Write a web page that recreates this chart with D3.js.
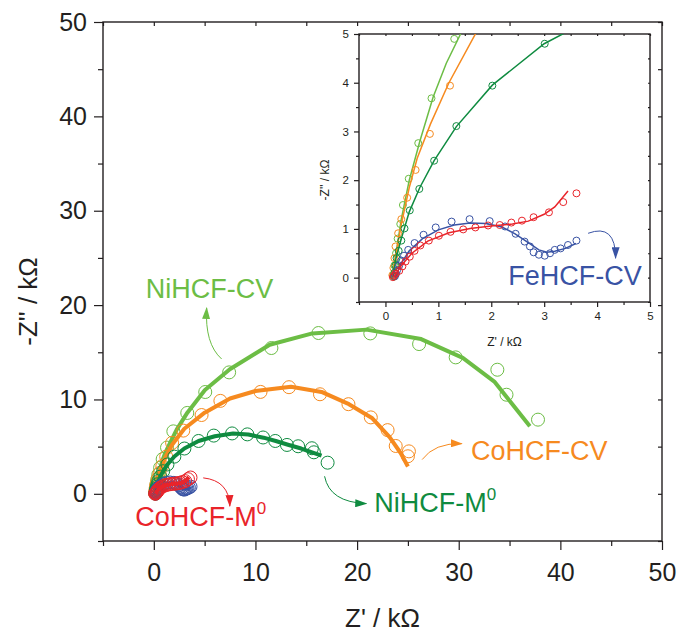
<!DOCTYPE html>
<html>
<head>
<meta charset="utf-8">
<script src="https://cdn.jsdelivr.net/npm/d3@7"></script>
<style>
	body { margin: 0; background: #fff; }
	svg { font-family: 'Liberation Sans', Arial, sans-serif; }
</style>
</head>
<body>
<div id="chart"></div>
<script>
// Nyquist data, Z' and -Z'' in kOhm
const niCvPts = [[0.15,0.05],[0.17,0.25],[0.2,0.5],[0.23,0.8],[0.28,1.1],[0.33,1.49],[0.44,2.03],[0.62,2.76],[0.87,3.68],[1.3,4.9],[1.92,6.62],[3.29,8.57],[5.06,10.79],[7.41,12.87],[11.57,15.45],[16.2,17.04],[21.3,17.0],[26.1,15.87],[29.7,14.46],[33.8,13.15],[34.7,10.5],[37.8,7.86]];
const niCvFit = [[0.12,0],[0.2,0.5],[0.3,1.2],[0.45,2.0],[0.65,2.8],[0.9,3.7],[1.15,4.4],[1.42,5.0],[2.25,6.8],[3.3,8.6],[5.03,11.0],[7.48,13.2],[11.4,15.8],[15.6,17.0],[20.9,17.4],[26.3,16.4],[30.4,14.4],[33.5,11.9],[37.0,7.15]];

const coCvPts = [[0.13,0.05],[0.15,0.2],[0.17,0.4],[0.19,0.64],[0.24,0.91],[0.3,1.2],[0.41,1.64],[0.57,2.21],[0.84,2.95],[1.22,3.94],[1.8,5.4],[2.9,6.7],[4.7,8.35],[6.55,9.85],[10.5,10.8],[13.3,11.3],[16.35,10.55],[19.15,9.5],[21.35,8.1],[23.0,6.75],[23.8,5.07],[25.1,4.5],[25.0,3.98]];
const coCvFit = [[0.13,0],[0.2,0.5],[0.3,1.1],[0.45,1.85],[0.6,2.45],[0.85,3.15],[1.2,4.0],[1.8,5.2],[3,6.9],[5,8.6],[7.5,10.1],[10,10.9],[13.5,11.35],[16.5,10.8],[19.2,9.5],[21.5,8.0],[23.2,6.0],[24.3,4.3],[25,2.9]];

const niM0Pts = [[0.16,0.02],[0.17,0.1],[0.19,0.25],[0.21,0.4],[0.25,0.55],[0.3,0.76],[0.36,1.01],[0.46,1.38],[0.64,1.82],[0.92,2.4],[1.34,3.11],[2.02,3.94],[3.01,4.8],[4.4,5.6],[5.9,6.17],[7.7,6.4],[9.2,6.3],[10.75,5.97],[11.95,5.6],[13.1,5.18],[14.2,5.04],[15.55,4.83],[15.75,4.4],[17.1,3.3]];
const niM0Fit = [[0.14,0],[0.2,0.4],[0.3,0.8],[0.45,1.35],[0.65,1.85],[0.92,2.4],[1.34,3.1],[2.02,3.95],[3.0,4.8],[4.4,5.6],[6,6.1],[7.8,6.4],[9.3,6.28],[10.8,5.95],[12,5.6],[13.2,5.2],[14.5,4.8],[16.5,4.05]];

const feCvPts = [[0.18,0.03],[0.2,0.08],[0.22,0.15],[0.26,0.25],[0.3,0.35],[0.35,0.45],[0.43,0.57],[0.55,0.71],[0.72,0.88],[0.95,1.03],[1.25,1.15],[1.59,1.2],[1.97,1.16],[2.26,1.05],[2.46,0.9],[2.63,0.74],[2.73,0.64],[2.8,0.52],[2.9,0.47],[3.01,0.45],[3.11,0.5],[3.2,0.57],[3.31,0.6],[3.45,0.67],[3.61,0.76]];
const feCvFit = [[0.18,0],[0.22,0.1],[0.3,0.3],[0.45,0.55],[0.7,0.8],[1.0,0.98],[1.3,1.08],[1.6,1.12],[1.9,1.11],[2.2,1.04],[2.45,0.9],[2.7,0.72],[2.9,0.57],[3.05,0.52],[3.2,0.54],[3.4,0.6],[3.6,0.7]];

const coM0Pts = [[0.14,0.01],[0.16,0.04],[0.19,0.08],[0.26,0.14],[0.32,0.23],[0.38,0.33],[0.46,0.43],[0.55,0.55],[0.66,0.66],[0.82,0.76],[1.01,0.86],[1.23,0.94],[1.47,0.99],[1.7,1.03],[1.94,1.07],[2.16,1.08],[2.38,1.13],[2.58,1.17],[2.8,1.24],[3.09,1.34],[3.36,1.55],[3.61,1.73]];
const coM0Fit = [[0.15,0],[0.22,0.12],[0.3,0.25],[0.5,0.5],[0.8,0.75],[1.2,0.92],[1.6,1.01],[2.0,1.06],[2.4,1.1],[2.7,1.16],[3.0,1.3],[3.2,1.45],[3.45,1.78]];

const seriesNames = ['NiHCF-CV', 'CoHCF-CV', 'NiHCF-M0', 'FeHCF-CV', 'CoHCF-M0'];
const seriesColors = ['#6cbd45', '#f68a1f', '#0f8b40', '#3953a4', '#e9242a'];

const mainTicks = [0, 10, 20, 30, 40, 50];
const mainMinor = [-5, 5, 15, 25, 35, 45];
const insetTicks = [0, 1, 2, 3, 4, 5];
const insetMinor = [-0.5, 0.5, 1.5, 2.5, 3.5, 4.5];

const series = [
	{ pts: niCvPts, fit: niCvFit },
	{ pts: coCvPts, fit: coCvFit },
	{ pts: niM0Pts, fit: niM0Fit },
	{ pts: feCvPts, fit: feCvFit },
	{ pts: coM0Pts, fit: coM0Fit }
].map((s, i) => ({ ...s, name: seriesNames[i], color: seriesColors[i] }));

const width = 678;
const height = 632;
const ink = '#231f20';

const svg = d3.select('#chart').append('svg')
	.attr('width', width)
	.attr('height', height);

const defs = svg.append('defs');
seriesColors.forEach((c, i) => {
	defs.append('marker')
		.attr('id', 'arr' + i)
		.attr('viewBox', '0 0 12 8')
		.attr('refX', 11).attr('refY', 4)
		.attr('markerWidth', 12).attr('markerHeight', 8)
		.attr('markerUnits', 'userSpaceOnUse')
		.attr('orient', 'auto')
		.append('path').attr('d', 'M0,0 L12,4 L0,8 Z').attr('fill', c);
});

// main panel scales
const x = d3.scaleLinear().domain([-5, 50]).range([103, 662]);
const y = d3.scaleLinear().domain([-5, 50]).range([541, 22]);

function styleAxis(g, fontSize) {
	g.select('.domain').remove();
	g.selectAll('line').attr('stroke', ink).attr('stroke-width', 1.2);
	g.selectAll('text').attr('fill', ink).style('font-size', fontSize + 'px')
		.style('font-family', "'Liberation Sans', Arial, sans-serif");
}

function drawAxes(g, sx, sy, major, minor, bigTick, smallTick, padX, padY, fontSize) {
	const [x0, x1] = sx.range();
	const [y0, y1] = sy.range();
	const fmt = d3.format('~g');
	g.append('g').attr('transform', `translate(${x0},0)`)
		.call(d3.axisLeft(sy).tickValues(major).tickSize(bigTick).tickPadding(padY).tickFormat(fmt))
		.call((a) => styleAxis(a, fontSize));
	g.append('g').attr('transform', `translate(${x0},0)`)
		.call(d3.axisLeft(sy).tickValues(minor).tickSize(smallTick).tickFormat(''))
		.call((a) => styleAxis(a, fontSize));
	g.append('g').attr('transform', `translate(0,${y0})`)
		.call(d3.axisBottom(sx).tickValues(major).tickSize(bigTick).tickPadding(padX).tickFormat(fmt))
		.call((a) => styleAxis(a, fontSize));
	g.append('g').attr('transform', `translate(0,${y0})`)
		.call(d3.axisBottom(sx).tickValues(minor).tickSize(smallTick).tickFormat(''))
		.call((a) => styleAxis(a, fontSize));
	// inward ticks on top and right
	const all = major.concat(minor);
	g.append('g').attr('transform', `translate(0,${y1})`)
		.call(d3.axisBottom(sx).tickValues(all).tickSize(smallTick - 1).tickFormat(''))
		.call((a) => styleAxis(a, fontSize));
	g.append('g').attr('transform', `translate(${x1},0)`)
		.call(d3.axisLeft(sy).tickValues(all).tickSize(smallTick - 1).tickFormat(''))
		.call((a) => styleAxis(a, fontSize));
	g.append('rect')
		.attr('x', x0).attr('y', y1)
		.attr('width', x1 - x0).attr('height', y0 - y1)
		.attr('fill', 'none').attr('stroke', ink).attr('stroke-width', 1.4);
}

const main = svg.append('g');
drawAxes(main, x, y, mainTicks, mainMinor, 9, 5, 13, 7, 25);

// main curves
const mainLine = d3.line().x((d) => x(d[0])).y((d) => y(d[1]));
series.forEach((s) => {
	main.append('g').selectAll('circle').data(s.pts).join('circle')
		.attr('cx', (d) => x(d[0])).attr('cy', (d) => y(d[1])).attr('r', 6.5)
		.attr('fill', 'none').attr('stroke', s.color).attr('stroke-width', 1);
	main.append('path').datum(s.fit)
		.attr('d', mainLine)
		.attr('fill', 'none').attr('stroke', s.color)
		.attr('stroke-width', 4).attr('stroke-linejoin', 'round');
});

// axis titles
main.append('text')
	.attr('x', (x.range()[0] + x.range()[1]) / 2)
	.attr('y', 627)
	.attr('text-anchor', 'middle')
	.style('font-size', '26px').attr('fill', ink)
	.text('Z\' / k\u03A9');
main.append('text')
	.attr('transform', `translate(37,${(y.range()[0] + y.range()[1]) / 2 + 20}) rotate(-90)`)
	.attr('text-anchor', 'middle')
	.style('font-size', '26px').attr('fill', ink)
	.text('-Z\'\' / k\u03A9');

// annotations in data units
function arrow(g, sx, sy, p0, c, p1, idx, color) {
	const p = d3.path();
	p.moveTo(sx(p0[0]), sy(p0[1]));
	p.quadraticCurveTo(sx(c[0]), sy(c[1]), sx(p1[0]), sy(p1[1]));
	g.append('path').attr('d', p.toString())
		.attr('fill', 'none').attr('stroke', color).attr('stroke-width', 1)
		.attr('marker-end', `url(#arr${idx})`);
}
function label(g, px, py, anchor, main, sup, color) {
	const t = g.append('text').attr('x', px).attr('y', py)
		.attr('text-anchor', anchor).attr('fill', color)
		.style('font-size', '27px').text(main);
	if (sup) {
		t.append('tspan').attr('dy', -12).style('font-size', '17px').text(sup);
	}
}

label(main, x(5.47), y(20.77), 'middle', 'NiHCF-CV', null, seriesColors[0]);
arrow(main, x, y, [6.67, 14.29], [5.0, 15.9], [5.2, 19.7], 0, seriesColors[0]);

label(main, x(31.2), y(3.63), 'start', 'CoHCF-CV', null, seriesColors[1]);
arrow(main, x, y, [26.4, 3.63], [27.6, 5.4], [30.3, 5.32], 1, seriesColors[1]);

label(main, x(21.7), y(-1.9), 'start', 'NiHCF-M', '0', seriesColors[2]);
arrow(main, x, y, [16.8, 1.86], [17.3, -0.9], [20.9, -1.03], 2, seriesColors[2]);

label(main, x(-1.83), y(-3.43), 'start', 'CoHCF-M', '0', seriesColors[4]);
arrow(main, x, y, [4.86, 1.69], [7.4, 1.4], [7.48, -1.3], 4, seriesColors[4]);

// inset panel
const xi = d3.scaleLinear().domain([-0.5, 5]).range([359, 650]);
const yi = d3.scaleLinear().domain([-0.5, 5]).range([302, 34]);

const inset = svg.append('g');
inset.append('rect')
	.attr('x', 359).attr('y', 34).attr('width', 291).attr('height', 268)
	.attr('fill', '#fff');
drawAxes(inset, xi, yi, insetTicks, insetMinor, 5, 3, 5, 5, 11.5);

defs.append('clipPath').attr('id', 'insetClip')
	.append('rect').attr('x', 359).attr('y', 34).attr('width', 291).attr('height', 268);

const insetLine = d3.line().x((d) => xi(d[0])).y((d) => yi(d[1]));
const plot = inset.append('g').attr('clip-path', 'url(#insetClip)');
series.forEach((s) => {
	plot.append('path').datum(s.fit)
		.attr('d', insetLine)
		.attr('fill', 'none').attr('stroke', s.color).attr('stroke-width', 1.5);
	plot.append('g').selectAll('circle').data(s.pts).join('circle')
		.attr('cx', (d) => xi(d[0])).attr('cy', (d) => yi(d[1])).attr('r', 3.5)
		.attr('fill', 'none').attr('stroke', s.color).attr('stroke-width', 1);
});

inset.append('text')
	.attr('x', (xi.range()[0] + xi.range()[1]) / 2)
	.attr('y', 346)
	.attr('text-anchor', 'middle')
	.style('font-size', '12px').attr('fill', ink)
	.text('Z\' / k\u03A9');
inset.append('text')
	.attr('transform', `translate(329,${(yi.range()[0] + yi.range()[1]) / 2 + 12}) rotate(-90)`)
	.attr('text-anchor', 'middle')
	.style('font-size', '12px').attr('fill', ink)
	.text('-Z\'\' / k\u03A9');

label(inset, xi(2.32), yi(-0.15), 'start', 'FeHCF-CV', null, seriesColors[3]);
arrow(inset, xi, yi, [3.83, 0.91], [4.35, 1.12], [4.35, 0.4], 3, seriesColors[3]);
</script>
</body>
</html>
